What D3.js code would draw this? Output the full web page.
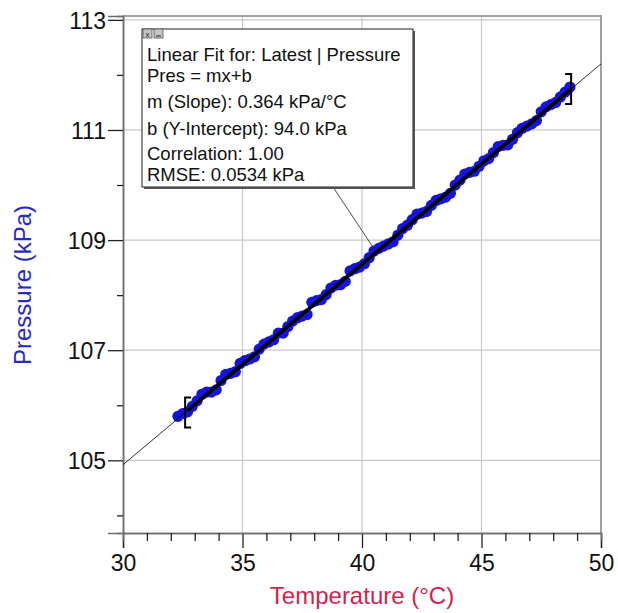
<!DOCTYPE html>
<html>
<head>
<meta charset="utf-8">
<script src="https://cdn.jsdelivr.net/npm/d3@7"></script>
<style>
  body { margin: 0; background: #fff; }
  text { font-family: "Liberation Sans", Arial, sans-serif; }
</style>
</head>
<body>
<script>
// temperature readings (°C) and pressure readings (kPa)
var temps = [32.3, 32.5, 32.7, 32.9, 33.1, 33.3, 33.5, 33.7, 33.9, 34.1, 34.3, 34.5, 34.7, 34.9,
  35.1, 35.3, 35.5, 35.7, 35.9, 36.1, 36.3, 36.5, 36.7, 36.9, 37.1, 37.3, 37.5, 37.7, 37.9,
  38.1, 38.3, 38.5, 38.7, 38.9, 39.1, 39.3, 39.5, 39.7, 39.9, 40.1, 40.3, 40.5, 40.7, 40.9,
  41.1, 41.3, 41.5, 41.7, 41.9, 42.1, 42.3, 42.5, 42.7, 42.9, 43.1, 43.3, 43.5, 43.7, 43.9,
  44.1, 44.3, 44.5, 44.7, 44.9, 45.1, 45.3, 45.5, 45.7, 45.9, 46.1, 46.3, 46.5, 46.7, 46.9,
  47.1, 47.3, 47.5, 47.7, 47.9, 48.1, 48.3, 48.5, 48.7]
var pressures = [105.80, 105.85, 105.88, 105.98, 106.08, 106.20, 106.24, 106.24, 106.28, 106.45, 106.56, 106.58, 106.61, 106.76,
  106.81, 106.84, 106.88, 107.02, 107.11, 107.15, 107.19, 107.31, 107.31, 107.43, 107.53, 107.59, 107.62, 107.65, 107.87,
  107.90, 107.92, 108.01, 108.13, 108.18, 108.19, 108.25, 108.44, 108.48, 108.51, 108.57, 108.68, 108.80, 108.85, 108.89,
  108.93, 108.97, 109.09, 109.21, 109.27, 109.37, 109.47, 109.49, 109.52, 109.63, 109.72, 109.75, 109.78, 109.85, 110.00,
  110.09, 110.20, 110.23, 110.25, 110.34, 110.44, 110.48, 110.59, 110.70, 110.72, 110.73, 110.83, 110.95, 111.03, 111.07,
  111.11, 111.17, 111.33, 111.42, 111.46, 111.50, 111.60, 111.69, 111.78]

// linear fit results
var slope = 0.364
var intercept = 94.0
var fitRange = [32.7, 48.7]
var fitLines = ["Linear Fit for: Latest | Pressure", "Pres = mx+b", "m (Slope): 0.364 kPa/°C",
  "b (Y-Intercept): 94.0 kPa", "Correlation: 1.00", "RMSE: 0.0534 kPa"]

var xMajor = [30, 35, 40, 45, 50]
var xMinor = [31, 32, 33, 34, 36, 37, 38, 39, 41, 42, 43, 44, 46, 47, 48, 49]
var yMajor = [105, 107, 109, 111, 113]
var yMinor = [104, 106, 108, 110, 112]

var width = 618, height = 613
var plot = {left: 123, right: 601, top: 16, bottom: 533}

var x = d3.scaleLinear().domain([30, 50]).range([plot.left, plot.right])
var y = d3.scaleLinear().domain([103.68, 113.07]).range([plot.bottom, plot.top])

var svg = d3.select("body").append("svg")
  .attr("width", width)
  .attr("height", height)

// grid
svg.append("g").selectAll("line")
  .data(xMajor.slice(1, -1))
  .enter().append("line")
  .attr("x1", function(d) { return x(d) }).attr("x2", function(d) { return x(d) })
  .attr("y1", plot.top).attr("y2", plot.bottom)
  .attr("stroke", "#c8c8c8").attr("stroke-width", 1.2)
svg.append("g").selectAll("line")
  .data(yMajor)
  .enter().append("line")
  .attr("x1", plot.left).attr("x2", plot.right)
  .attr("y1", function(d) { return y(d) }).attr("y2", function(d) { return y(d) })
  .attr("stroke", "#c8c8c8").attr("stroke-width", 1.2)

// frame: top and right in light gray
svg.append("path")
  .attr("d", "M" + plot.left + "," + plot.top + "H" + plot.right + "V" + plot.bottom)
  .attr("fill", "none").attr("stroke", "#a0a0a0").attr("stroke-width", 2)

// axes
var xAxis = svg.append("g").attr("transform", "translate(0," + plot.bottom + ")")
xAxis.call(d3.axisBottom(x).tickValues(xMajor).tickSize(15).tickFormat(d3.format("d")))
xAxis.append("g").call(d3.axisBottom(x).tickValues(xMinor).tickSize(8).tickFormat(""))
xAxis.selectAll(".domain").attr("stroke", "#6e6e6e").attr("stroke-width", 1.5)
xAxis.selectAll(".tick line").attr("stroke", "#222").attr("stroke-width", 1.3)
xAxis.selectAll(".tick text").attr("fill", "#111").attr("font-size", 23)
  .attr("font-family", "Liberation Sans, Arial, sans-serif").attr("dy", null).attr("y", 38)

var yAxis = svg.append("g").attr("transform", "translate(" + plot.left + ",0)")
yAxis.call(d3.axisLeft(y).tickValues(yMajor).tickSize(15).tickFormat(d3.format("d")))
yAxis.append("g").call(d3.axisLeft(y).tickValues(yMinor).tickSize(6).tickFormat(""))
yAxis.selectAll(".domain").attr("stroke", "#6e6e6e").attr("stroke-width", 1.5)
yAxis.selectAll(".tick line").attr("stroke", "#222").attr("stroke-width", 1.3)
yAxis.selectAll(".tick text").attr("fill", "#111").attr("font-size", 23)
  .attr("font-family", "Liberation Sans, Arial, sans-serif").attr("x", -17).attr("dy", "0.36em")

// axis titles
svg.append("text")
  .attr("x", 362).attr("y", 604)
  .attr("text-anchor", "middle")
  .attr("font-size", 24)
  .attr("fill", "#d61f4c")
  .text("Temperature (°C)")
svg.append("text")
  .attr("transform", "translate(31," + 285 + ") rotate(-90)")
  .attr("text-anchor", "middle")
  .attr("font-size", 24)
  .attr("fill", "#2828c8")
  .text("Pressure (kPa)")

var fit = function(t) { return slope * t + intercept }

// data points
var points = temps.map(function(t, i) { return [t, pressures[i]] })
svg.append("g").selectAll("circle")
  .data(points)
  .enter().append("circle")
  .attr("cx", function(d) { return x(d[0]) })
  .attr("cy", function(d) { return y(d[1]) })
  .attr("r", 5.6)
  .attr("fill", "#1414dc")

// thin fit line across the graph, bold over fitted range
svg.append("line")
  .attr("x1", x(30)).attr("y1", y(fit(30)))
  .attr("x2", x(50)).attr("y2", y(fit(50)))
  .attr("stroke", "#000").attr("stroke-width", 0.8)
svg.append("line")
  .attr("x1", x(fitRange[0])).attr("y1", y(fit(fitRange[0])))
  .attr("x2", x(fitRange[1])).attr("y2", y(fit(fitRange[1])))
  .attr("stroke", "#000").attr("stroke-width", 3.6)

// range brackets
function bracket(t, dir) {
  var bx = x(t), by = y(fit(t))
  var arm = 6 * dir
  svg.append("path")
    .attr("d", "M" + (bx + arm) + "," + (by - 15) + "H" + bx + "V" + (by + 15) + "H" + (bx + arm))
    .attr("fill", "none").attr("stroke", "#000").attr("stroke-width", 2)
}
bracket(fitRange[0] - 0.1, 1)
bracket(fitRange[1] + 0.05, -1)

// fit info box and leader line
var box = {x: 142, y: 29, w: 271, h: 158}
svg.append("line")
  .attr("x1", 333).attr("y1", box.y + box.h)
  .attr("x2", x(40.6)).attr("y2", y(fit(40.6)))
  .attr("stroke", "#222").attr("stroke-width", 0.8)
svg.append("rect")
  .attr("x", box.x + 2).attr("y", box.y + 2).attr("width", box.w).attr("height", box.h)
  .attr("fill", "#555")
svg.append("rect")
  .attr("x", box.x).attr("y", box.y).attr("width", box.w).attr("height", box.h)
  .attr("fill", "#fff").attr("stroke", "#444").attr("stroke-width", 1.2)

var lineY = [61, 82, 108, 135, 160, 181]
svg.append("g").selectAll("text")
  .data(fitLines)
  .enter().append("text")
  .attr("x", box.x + 5)
  .attr("y", function(d, i) { return lineY[i] })
  .attr("font-size", 18.5)
  .attr("fill", "#111")
  .text(function(d) { return d })

// small close / minimize buttons
var btn = svg.append("g")
btn.append("rect").attr("x", 143).attr("y", 29).attr("width", 9).attr("height", 9)
  .attr("fill", "#c4c4c4").attr("stroke", "#555").attr("stroke-width", 0.8)
btn.append("rect").attr("x", 154).attr("y", 29).attr("width", 9).attr("height", 9)
  .attr("fill", "#c4c4c4").attr("stroke", "#555").attr("stroke-width", 0.8)
btn.append("text").attr("x", 147.5).attr("y", 37).attr("text-anchor", "middle")
  .attr("font-size", 8).attr("fill", "#222").text("x")
btn.append("line").attr("x1", 156).attr("x2", 161).attr("y1", 36).attr("y2", 36)
  .attr("stroke", "#222").attr("stroke-width", 1)
</script>
</body>
</html>
